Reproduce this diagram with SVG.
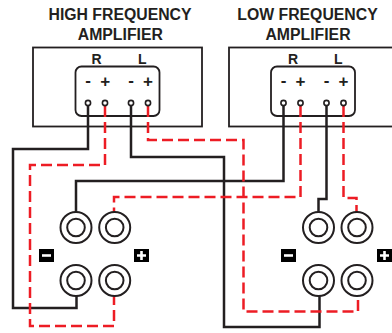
<svg xmlns="http://www.w3.org/2000/svg" width="392" height="333" viewBox="0 0 392 333">
<style>
text{font-family:"Liberation Sans",Arial,sans-serif;font-weight:bold;fill:#231f20;text-anchor:middle}
.t{font-size:15.800px}
.s{font-size:14px}
.p{font-size:17px}
.box{fill:none;stroke:#231f20;stroke-width:1.800}
.k{fill:none;stroke:#231f20;stroke-width:2.500}
.r{fill:none;stroke:#ed1c24;stroke-width:2.500;stroke-dasharray:11 5}
.j{fill:#fff;stroke:#231f20;stroke-width:1.600}
.c{fill:#fff;stroke:#231f20;stroke-width:2}
.tag{fill:#000}
.g{stroke:#fff;stroke-width:2.600;fill:none}
</style>
<g id="high-amp">
<rect class="box" x="33" y="47.500" width="169" height="79"/>
<rect class="box" x="75.500" y="66.500" width="84" height="49.500" rx="6"/>
<text class="t" x="120" y="20">HIGH FREQUENCY</text>
<text class="t" x="120.300" y="40">AMPLIFIER</text>
<text class="s" x="96.500" y="63.500">R</text>
<text class="s" x="142.300" y="63.500">L</text>
<text class="p" x="88" y="86">-</text>
<text class="p" x="105.300" y="87">+</text>
<text class="p" x="131" y="86">-</text>
<text class="p" x="148" y="87">+</text>
</g>
<g id="low-amp">
<rect class="box" x="229" y="47.500" width="170" height="79"/>
<rect class="box" x="271" y="66.500" width="84" height="49.500" rx="6"/>
<text class="t" x="307.500" y="20">LOW FREQUENCY</text>
<text class="t" x="308" y="39.500">AMPLIFIER</text>
<text class="s" x="293" y="63.500">R</text>
<text class="s" x="338.300" y="63.500">L</text>
<text class="p" x="283.500" y="86">-</text>
<text class="p" x="300.500" y="87">+</text>
<text class="p" x="326.500" y="86">-</text>
<text class="p" x="343.500" y="87">+</text>
</g>
<g id="connectors">
<path class="k" d="M88 103V149H13V308H76.500V296"/>
<path class="k" d="M131 103V157H224V327H319.500V296"/>
<path class="k" d="M283.500 103V181H76V212"/>
<path class="k" d="M326.500 103V199H318.500V212"/>
<path class="r" d="M105 106V165H30V326H114V296"/>
<path class="r" d="M148 106V140H243.500V311.500H358V296"/>
<path class="r" d="M300.500 106V197H114V212"/>
<path class="r" d="M343.500 106V198H356.500V212"/>
</g>
<g id="terminals">
<circle class="j" cx="88" cy="103" r="2.600"/>
<circle class="j" cx="105" cy="103" r="2.600"/>
<circle class="j" cx="131" cy="103" r="2.600"/>
<circle class="j" cx="148" cy="103" r="2.600"/>
<circle class="j" cx="283.500" cy="103" r="2.600"/>
<circle class="j" cx="300.500" cy="103" r="2.600"/>
<circle class="j" cx="326.500" cy="103" r="2.600"/>
<circle class="j" cx="343.500" cy="103" r="2.600"/>
</g>
<g id="left-speaker">
<circle class="c" cx="76" cy="227.500" r="15.500"/><circle class="c" cx="76" cy="227.500" r="8.800"/>
<circle class="c" cx="114.700" cy="227.500" r="15.500"/><circle class="c" cx="114.700" cy="227.500" r="8.800"/>
<circle class="c" cx="76" cy="280.500" r="15.500"/><circle class="c" cx="76" cy="280.500" r="8.800"/>
<circle class="c" cx="114.700" cy="280.500" r="15.500"/><circle class="c" cx="114.700" cy="280.500" r="8.800"/>
<rect class="tag" x="39" y="249" width="15" height="13"/><path class="g" d="M42 255.500H51"/>
<rect class="tag" x="134" y="249" width="15" height="13"/><path class="g" d="M137 255.500H146M141.500 251V260"/>
</g>
<g id="right-speaker">
<circle class="c" cx="318.500" cy="227.500" r="15.500"/><circle class="c" cx="318.500" cy="227.500" r="8.800"/>
<circle class="c" cx="357" cy="227.500" r="15.500"/><circle class="c" cx="357" cy="227.500" r="8.800"/>
<circle class="c" cx="318.500" cy="280.500" r="15.500"/><circle class="c" cx="318.500" cy="280.500" r="8.800"/>
<circle class="c" cx="357" cy="280.500" r="15.500"/><circle class="c" cx="357" cy="280.500" r="8.800"/>
<rect class="tag" x="281" y="249" width="15" height="13"/><path class="g" d="M284 255.500H293"/>
<rect class="tag" x="377" y="249" width="15" height="13"/><path class="g" d="M380 255.500H389M384.500 251V260"/>
</g>
</svg>
